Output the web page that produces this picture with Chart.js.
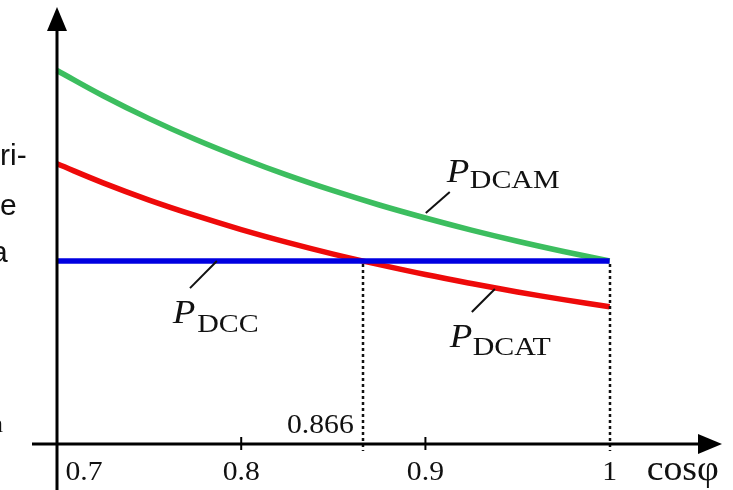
<!DOCTYPE html>
<html>
<head>
<meta charset="utf-8">
<script src="https://cdn.jsdelivr.net/npm/chart.js@4/dist/chart.umd.min.js"></script>
<style>
  html, body { margin: 0; padding: 0; background: #ffffff; }
  #wrap { position: relative; width: 733px; height: 490px; }
</style>
</head>
<body>
<div id="wrap"><canvas id="c" width="733" height="490"></canvas></div>
<script>
// ---- data ----
const cosPhi = [0.700, 0.725, 0.750, 0.775, 0.800, 0.825, 0.850, 0.875, 0.900, 0.925, 0.950, 0.975, 1.000];
const pDCAM  = [2.041, 1.903, 1.778, 1.665, 1.563, 1.469, 1.384, 1.306, 1.235, 1.169, 1.108, 1.052, 1.000];
const pDCAT  = [1.531, 1.427, 1.333, 1.249, 1.172, 1.102, 1.038, 0.980, 0.926, 0.877, 0.831, 0.789, 0.750];
const pDCC   = [1.000, 1.000, 1.000, 1.000, 1.000, 1.000, 1.000, 1.000, 1.000, 1.000, 1.000, 1.000, 1.000];
const xTicks = [0.7, 0.8, 0.9, 1];
const xTickLabels = ["0.7", "0.8", "0.9", "1"];
const markX = [0.866, 1.0];
const markLabel = "0.866";
const xAxisTitle = "cosφ";
const seriesNames = ["DCAM", "DCAT", "DCC"];
const sideFragments = ["ri-", "e", "a", "n"];

const toPts = ys => cosPhi.map((x, i) => ({ x: x, y: ys[i] }));

const SERIF = '"Liberation Serif", "Times New Roman", serif';
const SANS = '"Liberation Sans", Arial, sans-serif';

function txt(ctx, s, x, y, font, align, stretch) {
  ctx.save();
  ctx.translate(x, y);
  ctx.scale(stretch || 1, 1);
  ctx.font = font;
  ctx.textAlign = align || 'left';
  ctx.textBaseline = 'alphabetic';
  ctx.fillStyle = '#111';
  ctx.fillText(s, 0, 0);
  ctx.restore();
}

function label(ctx, xs, ys, sub, px, py, sx, sy) {
  txt(ctx, 'P', xs.getPixelForValue(px), ys.getPixelForValue(py), 'italic 33px ' + SERIF, 'left', 1.12);
  txt(ctx, sub, xs.getPixelForValue(sx), ys.getPixelForValue(sy), '26px ' + SERIF, 'left', 1.15);
}

const overlay = {
  id: 'overlay',
  afterDatasetsDraw(chart) {
    const ctx = chart.ctx;
    const xs = chart.scales.x, ys = chart.scales.y;
    const x0 = xs.getPixelForValue(xs.min);
    const y0 = ys.getPixelForValue(0);
    const xEnd = xs.getPixelForValue(xs.max);
    const yTop = ys.getPixelForValue(ys.max);

    // dotted guide lines
    ctx.save();
    ctx.strokeStyle = '#111';
    ctx.lineWidth = 2.5;
    ctx.setLineDash([3, 3]);
    markX.forEach(v => {
      const px = Math.round(xs.getPixelForValue(v));
      ctx.beginPath();
      ctx.moveTo(px, ys.getPixelForValue(1.0) + 3);
      ctx.lineTo(px, y0 + 7);
      ctx.stroke();
    });
    ctx.restore();

    // axes
    ctx.save();
    ctx.strokeStyle = '#000';
    ctx.fillStyle = '#000';
    ctx.lineWidth = 3;
    ctx.beginPath();
    ctx.moveTo(x0, 490);
    ctx.lineTo(x0, yTop + 18);
    ctx.moveTo(32, y0);
    ctx.lineTo(xEnd - 18, y0);
    ctx.stroke();
    ctx.beginPath();
    ctx.moveTo(x0, yTop);
    ctx.lineTo(x0 - 10, yTop + 24);
    ctx.lineTo(x0 + 10, yTop + 24);
    ctx.closePath();
    ctx.fill();
    ctx.beginPath();
    ctx.moveTo(xEnd, y0);
    ctx.lineTo(xEnd - 24, y0 - 10);
    ctx.lineTo(xEnd - 24, y0 + 10);
    ctx.closePath();
    ctx.fill();
    ctx.lineWidth = 2;
    [0.8, 0.9].forEach(v => {
      const px = xs.getPixelForValue(v);
      ctx.beginPath();
      ctx.moveTo(px, y0 - 7);
      ctx.lineTo(px, y0 + 6);
      ctx.stroke();
    });
    ctx.restore();

    // tick labels
    xTicks.forEach((v, i) => {
      let px = xs.getPixelForValue(v);
      if (i === 0) px += 27;
      txt(ctx, xTickLabels[i], px, y0 + 36, '27px ' + SERIF, 'center', 1.1);
    });
    txt(ctx, xAxisTitle, xs.getPixelForValue(1.0) + 37, y0 + 36, '35px ' + SERIF, 'left', 1.08);
    txt(ctx, markLabel, xs.getPixelForValue(0.866) - 9, y0 - 11, '27px ' + SERIF, 'right', 1.1);

    // leader lines
    ctx.save();
    ctx.strokeStyle = '#111';
    ctx.lineWidth = 2;
    const lead = (a, b, c, d) => {
      ctx.beginPath();
      ctx.moveTo(xs.getPixelForValue(a), ys.getPixelForValue(b));
      ctx.lineTo(xs.getPixelForValue(c), ys.getPixelForValue(d));
      ctx.stroke();
    };
    lead(0.9002, 1.262, 0.9132, 1.377);
    lead(0.7868, 1.0, 0.7722, 0.852);
    lead(0.9377, 0.847, 0.9252, 0.721);
    ctx.restore();

    // series labels
    label(ctx, xs, ys, seriesNames[0], 0.9116, 1.432, 0.9241, 1.399);
    label(ctx, xs, ys, seriesNames[2], 0.7629, 0.661, 0.7761, 0.612);
    label(ctx, xs, ys, seriesNames[1], 0.9132, 0.530, 0.9257, 0.486);

    // cropped text fragments on the left edge
    txt(ctx, sideFragments[0], 0, 165, '30px ' + SANS, 'left', 1);
    txt(ctx, sideFragments[1], 0, 215, '30px ' + SANS, 'left', 1);
    txt(ctx, sideFragments[2], -9, 262, '30px ' + SANS, 'left', 1);
    txt(ctx, sideFragments[3], -10, 432, '26px ' + SERIF, 'left', 1);
  }
};

function build() {
  new Chart(document.getElementById('c'), {
    type: 'line',
    data: {
      datasets: [
        { label: 'P_DCAM', data: toPts(pDCAM), borderColor: 'rgb(60,190,95)', borderWidth: 5.5, order: 3 },
        { label: 'P_DCAT', data: toPts(pDCAT), borderColor: 'rgb(238,10,10)', borderWidth: 5.5, order: 2 },
        { label: 'P_DCC',  data: toPts(pDCC),  borderColor: 'rgb(0,0,225)',   borderWidth: 5.5, order: 1 }
      ]
    },
    options: {
      responsive: false,
      animation: false,
      events: [],
      layout: { padding: { left: 57, right: 11, top: 7, bottom: 46 } },
      elements: {
        point: { radius: 0 },
        line: { tension: 0.4, fill: false, borderCapStyle: 'butt' }
      },
      datasets: { line: { clip: false } },
      scales: {
        x: { type: 'linear', min: 0.7, max: 1.061, display: false },
        y: { type: 'linear', min: 0, max: 2.388, display: false }
      },
      plugins: { legend: { display: false }, tooltip: { enabled: false } }
    },
    plugins: [overlay]
  });
}

const loads = [
  '27px "Liberation Serif"', 'italic 33px "Liberation Serif"', '30px "Liberation Sans"'
].map(f => document.fonts.load(f, 'P0.9DCAMcosφ'));
Promise.all(loads).then(build, build);
</script>
</body>
</html>
